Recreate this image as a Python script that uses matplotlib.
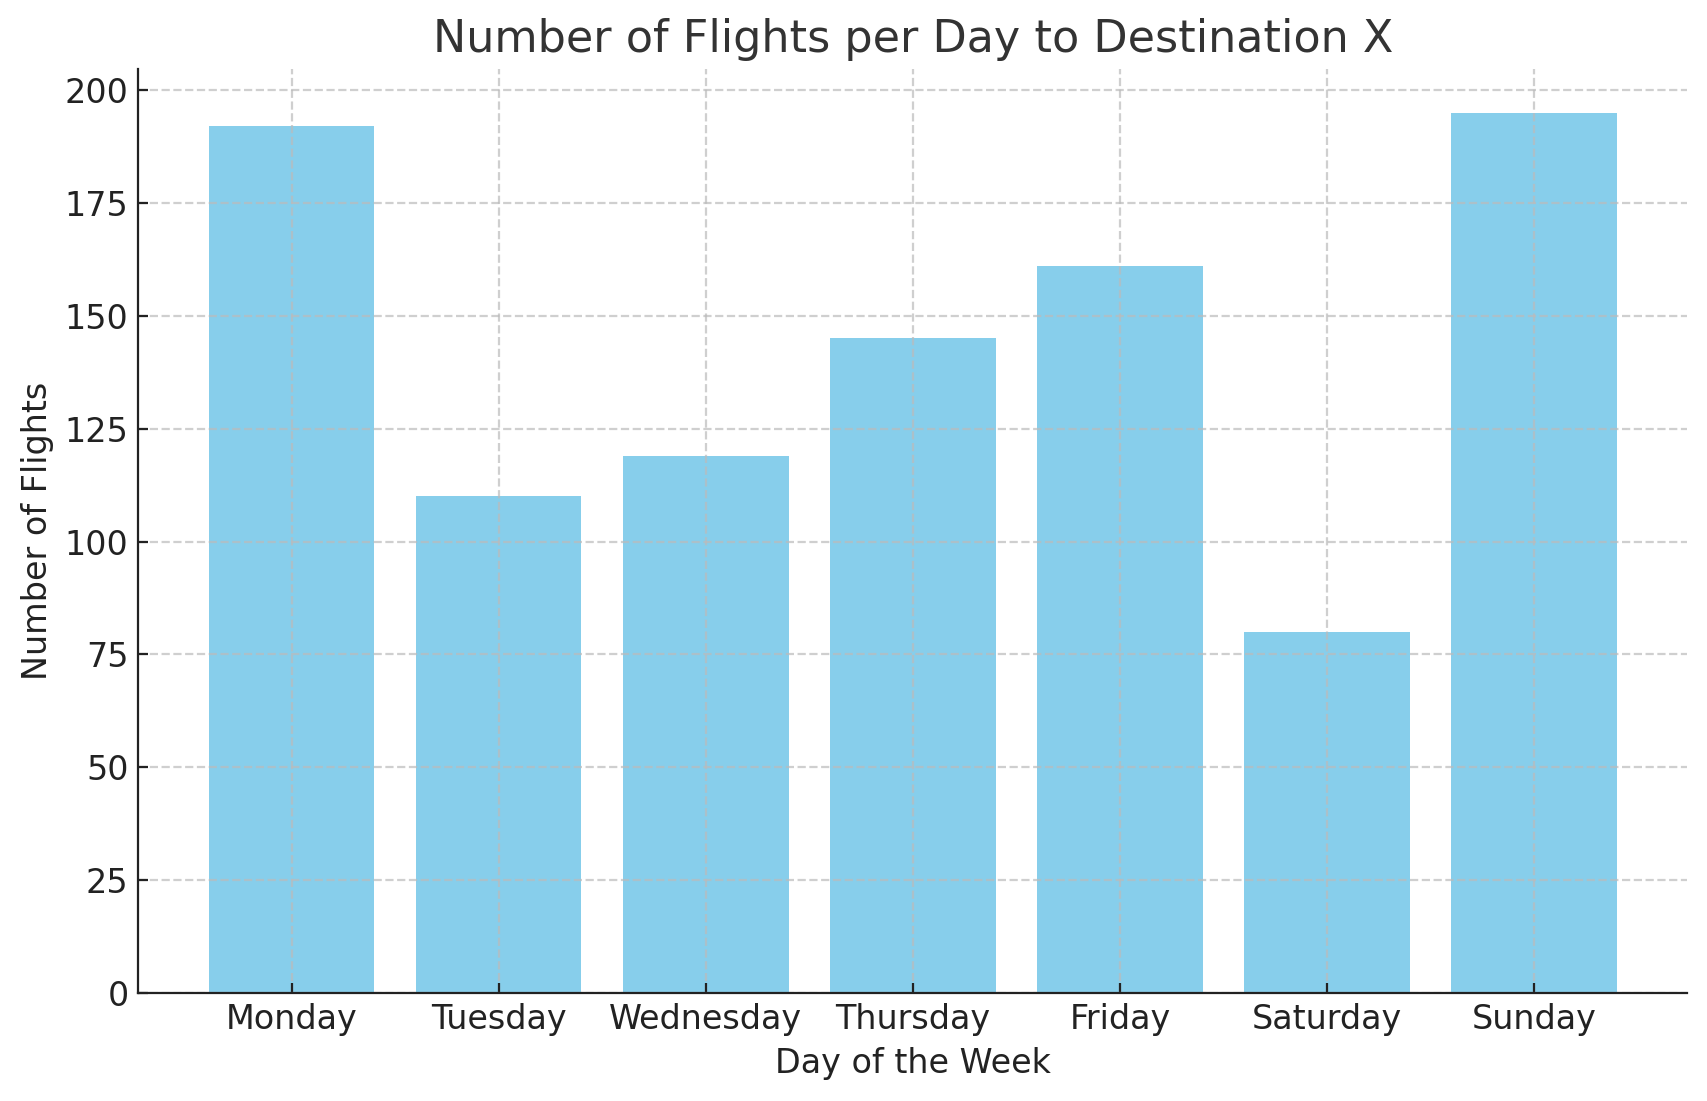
import matplotlib
matplotlib.use("Agg")
import matplotlib.pyplot as plt

days = ["Monday", "Tuesday", "Wednesday", "Thursday", "Friday", "Saturday", "Sunday"]
flights = [192, 110, 119, 145, 161, 80, 195]

plt.rcParams['font.family'] = ['DejaVu Sans']
fig, ax = plt.subplots(figsize=(8.535, 5.505), dpi=200)
ax.bar(days, flights, color='skyblue')
ax.set_title("Number of Flights per Day to Destination X", fontsize=16, color='#333333')
ax.set_xlabel("Day of the Week", fontsize=12, color='#222222')
ax.set_ylabel("Number of Flights", fontsize=12, color='#222222')
ax.tick_params(labelsize=12, colors='#222222', direction='in')
ax.grid(True, linestyle='--', alpha=0.7, color='#bbbbbb')
ax.spines['top'].set_visible(False)
ax.spines['right'].set_visible(False)
for s in ['left', 'bottom']:
    ax.spines[s].set_color('#222222')
fig.subplots_adjust(left=0.081, right=0.9885, bottom=0.098, top=0.9377)
fig.savefig("out.png", dpi=200)
